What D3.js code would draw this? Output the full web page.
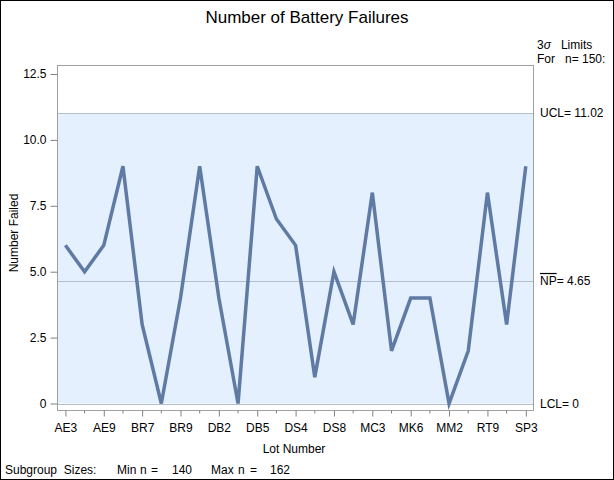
<!DOCTYPE html>
<html>
<head>
<meta charset="utf-8">
<script src="https://cdn.jsdelivr.net/npm/d3@7"></script>
<style>
  body { margin: 0; background: #fff; }
  text { font-family: "Liberation Sans", Arial, sans-serif; fill: #000; }
</style>
</head>
<body>
<div id="chart"></div>
<script>
// values
var failed = [6, 5, 6, 9, 3, 0, 4, 9, 4, 0, 9, 7, 6, 1, 5, 3, 8, 2, 4, 4, 0, 2, 8, 3, 9];
// every other lot is labelled
var lotLabels = ["AE3", "AE9", "BR7", "BR9", "DB2", "DB5", "DS4", "DS8", "MC3", "MK6", "MM2", "RT9", "SP3"];
var yTicks = [0, 2.5, 5.0, 7.5, 10.0, 12.5];
var ucl = 11.02;
var npBar = 4.65;
var lcl = 0;
var minN = 140;
var maxN = 162;
var limitN = 150;

var svgWidth = 614;
var svgHeight = 480;

var plot = { left: 57, right: 533, top: 65, bottom: 410 };

var svg = d3.select("#chart")
  .append("svg")
  .attr("width", svgWidth)
  .attr("height", svgHeight);

// outer border
svg.append("rect")
  .attr("x", 0.5).attr("y", 0.5)
  .attr("width", svgWidth - 1).attr("height", svgHeight - 1)
  .attr("fill", "none").attr("stroke", "#000");

var xScale = d3.scaleLinear()
  .domain([0, failed.length - 1])
  .range([65.4, 525.8]);

var yScale = d3.scaleLinear()
  .domain([0, 12.5])
  .range([403.5, 74]);

// shaded band between the limits
svg.append("rect")
  .attr("x", plot.left)
  .attr("y", yScale(ucl))
  .attr("width", plot.right - plot.left)
  .attr("height", yScale(lcl) - yScale(ucl))
  .attr("fill", "#e5f0ff");

// limit lines
[ucl, npBar, lcl].forEach(function(v) {
  svg.append("line")
    .attr("x1", plot.left).attr("x2", plot.right)
    .attr("y1", Math.round(yScale(v)) + 0.5).attr("y2", Math.round(yScale(v)) + 0.5)
    .attr("stroke", "#b4bfcc");
});

// frame
svg.append("rect")
  .attr("x", plot.left + 0.5).attr("y", plot.top + 0.5)
  .attr("width", plot.right - plot.left).attr("height", plot.bottom - plot.top)
  .attr("fill", "none").attr("stroke", "#a0a0a0");

// y axis
var leftAxis = d3.axisLeft(yScale)
  .tickValues(yTicks)
  .tickSize(7)
  .tickPadding(4)
  .tickFormat(function(d) { return d === 0 ? "0" : d3.format(".1f")(d); });

var yAxis = svg.append("g")
  .attr("transform", "translate(" + (plot.left + 0.5) + ",0)")
  .call(leftAxis);
yAxis.select(".domain").remove();
yAxis.selectAll("line").attr("stroke", "#808080");
yAxis.selectAll("text").attr("font-size", 12);

// x axis: major ticks labelled, minor ticks between
var bottomAxis = d3.axisBottom(xScale)
  .tickValues(d3.range(0, failed.length, 2))
  .tickSize(6)
  .tickPadding(7)
  .tickFormat(function(d) { return lotLabels[d / 2]; });

var xAxis = svg.append("g")
  .attr("transform", "translate(0," + (plot.bottom + 0.5) + ")")
  .call(bottomAxis);
xAxis.select(".domain").remove();
xAxis.selectAll("line").attr("stroke", "#808080");
xAxis.selectAll("text").attr("font-size", 12);

svg.append("g")
  .selectAll("line")
  .data(d3.range(1, failed.length, 2))
  .enter()
  .append("line")
  .attr("x1", d => xScale(d)).attr("x2", d => xScale(d))
  .attr("y1", plot.bottom + 0.5).attr("y2", plot.bottom + 3.5)
  .attr("stroke", "#808080");

// the series
var line = d3.line()
  .x((d, i) => xScale(i))
  .y(d => yScale(d));

svg.append("path")
  .datum(failed)
  .attr("d", line)
  .attr("fill", "none")
  .attr("stroke", "#5f7aa3")
  .attr("stroke-width", 3.5)
  .attr("stroke-linejoin", "miter");

// titles
svg.append("text")
  .attr("x", 307).attr("y", 23)
  .attr("text-anchor", "middle")
  .attr("font-size", 17)
  .text("Number of Battery Failures");

svg.append("text")
  .attr("transform", "translate(18," + 233 + ") rotate(-90)")
  .attr("text-anchor", "middle")
  .attr("font-size", 12)
  .text("Number Failed");

svg.append("text")
  .attr("x", 294).attr("y", 453)
  .attr("text-anchor", "middle")
  .attr("font-size", 12)
  .text("Lot Number");

// subgroup size footnote, pieces spaced as in the original
var foot = [
  { x: 5, t: "Subgroup  Sizes:" },
  { x: 117, t: "Min" }, { x: 140, t: "n" }, { x: 151, t: "=" }, { x: 172, t: String(minN) },
  { x: 211, t: "Max" }, { x: 238, t: "n" }, { x: 250, t: "=" }, { x: 270, t: String(maxN) }
];
svg.append("g")
  .selectAll("text")
  .data(foot)
  .enter()
  .append("text")
  .attr("x", d => d.x).attr("y", 474)
  .attr("font-size", 12)
  .style("white-space", "pre")
  .text(d => d.t);

// limit labels on the right
var rightX = 537;
var lim = svg.append("text")
  .attr("x", rightX).attr("y", 49)
  .attr("font-size", 12);
lim.append("tspan").text("3");
lim.append("tspan").attr("font-style", "italic").text("σ");
lim.append("tspan").style("white-space", "pre").text("   Limits");

svg.append("text")
  .attr("x", rightX).attr("y", 63)
  .attr("font-size", 12)
  .style("white-space", "pre")
  .text("For   n= " + limitN + ":");

svg.append("text")
  .attr("x", rightX + 3).attr("y", yScale(ucl) + 4)
  .attr("font-size", 12)
  .text("UCL= " + ucl.toFixed(2));

var npText = svg.append("text")
  .attr("x", rightX + 3).attr("y", yScale(npBar) + 4)
  .attr("font-size", 12);
npText.append("tspan").attr("text-decoration", "overline").text("NP");
npText.append("tspan").text("= " + npBar.toFixed(2));

svg.append("text")
  .attr("x", rightX + 3).attr("y", yScale(lcl) + 4)
  .attr("font-size", 12)
  .text("LCL= " + lcl);
</script>
</body>
</html>
